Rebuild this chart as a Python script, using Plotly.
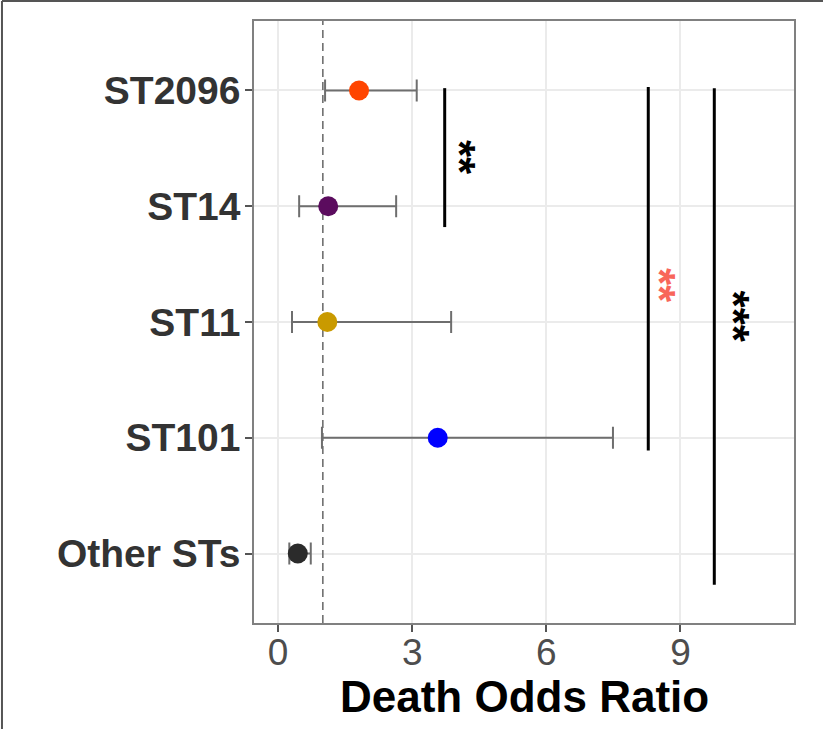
import plotly.graph_objects as go

# sequence types, bottom to top
categories = ["Other STs", "ST101", "ST11", "ST14", "ST2096"]
odds_ratio = [0.44, 3.57, 1.10, 1.12, 1.81]
ci_low = [0.25, 0.98, 0.31, 0.47, 1.05]
ci_high = [0.73, 7.49, 3.87, 2.64, 3.10]
point_colors = ["#2B2B2B", "#0000FF", "#C99A00", "#5B0C5E", "#FF4500"]

# significance brackets
sig_x = [3.726, 8.28, 9.757]
sig_top = [5.02, 5.03, 5.02]
sig_bottom = [3.82, 1.89, 0.73]
sig_labels = ["**", "**", "***"]
sig_label_x = [4.06, 8.52, 10.19]
sig_label_y = [4.42, 3.32, 3.05]
sig_colors = ["#000000", "#F8665A", "#000000"]

x_ticks = [0, 3, 6, 9]

ypos = list(range(1, len(categories) + 1))

fig = go.Figure()

# reference line at OR = 1
fig.add_trace(go.Scatter(
    x=[1, 1], y=[0.4, 5.6], mode="lines",
    line=dict(color="#666666", width=1.5, dash="8px,5px"),
    hoverinfo="skip", showlegend=False
))

fig.add_trace(go.Scatter(
    x=odds_ratio, y=ypos, mode="markers",
    marker=dict(size=20, color=point_colors, line=dict(width=0)),
    error_x=dict(
        type="data", symmetric=False,
        array=[h - o for h, o in zip(ci_high, odds_ratio)],
        arrayminus=[o - l for o, l in zip(odds_ratio, ci_low)],
        color="#6E6E6E", thickness=2, width=11
    ),
    showlegend=False
))

for x, y0, y1 in zip(sig_x, sig_top, sig_bottom):
    fig.add_trace(go.Scatter(
        x=[x, x], y=[y0, y1], mode="lines",
        line=dict(color="#000000", width=3),
        hoverinfo="skip", showlegend=False
    ))

for lab, x, y, c in zip(sig_labels, sig_label_x, sig_label_y, sig_colors):
    fig.add_annotation(
        x=x, y=y, text="<b>%s</b>" % lab, showarrow=False, textangle=90,
        font=dict(family="Liberation Sans", size=44, color=c)
    )

# x axis title
fig.add_annotation(
    x=0.5, y=-0.1229, xref="paper", yref="paper", yanchor="middle",
    text="<b>Death Odds Ratio</b>", showarrow=False,
    font=dict(family="Liberation Sans", size=44, color="#000000")
)

# outer frame of the figure
fig.add_shape(type="line", xref="paper", yref="paper",
              x0=-0.4667, x1=1.06, y0=1.0332, y1=1.0332,
              line=dict(color="#555555", width=2))
fig.add_shape(type="line", xref="paper", yref="paper",
              x0=-0.4667, x1=-0.4667, y0=1.0332, y1=-0.2,
              line=dict(color="#555555", width=2))

fig.update_layout(
    width=823, height=729,
    margin=dict(l=254, r=29, t=21, b=106),
    paper_bgcolor="white", plot_bgcolor="white",
    font=dict(family="Liberation Sans"),
    xaxis=dict(
        range=[-0.54, 11.54], tickvals=x_ticks,
        showgrid=True, gridcolor="#EBEBEB", gridwidth=1.5, zeroline=False,
        showline=True, mirror=True, linecolor="#808080", linewidth=1.5,
        ticks="outside", ticklen=7, tickwidth=1.5, tickcolor="#555555",
        tickfont=dict(size=37, color="#4D4D4D"), ticklabelstandoff=-11
    ),
    yaxis=dict(
        range=[0.4, 5.6], tickvals=ypos,
        ticktext=["<b>%s</b>" % c for c in categories],
        showgrid=True, gridcolor="#EBEBEB", gridwidth=1.5, zeroline=False,
        showline=True, mirror=True, linecolor="#808080", linewidth=1.5,
        ticks="outside", ticklen=7, tickwidth=1.5, tickcolor="#555555",
        tickfont=dict(size=39, color="#333333"), ticklabelstandoff=-3
    )
)

fig.write_html("out.html", config={"displayModeBar": False},
               post_script="document.body.style.margin='0';")
